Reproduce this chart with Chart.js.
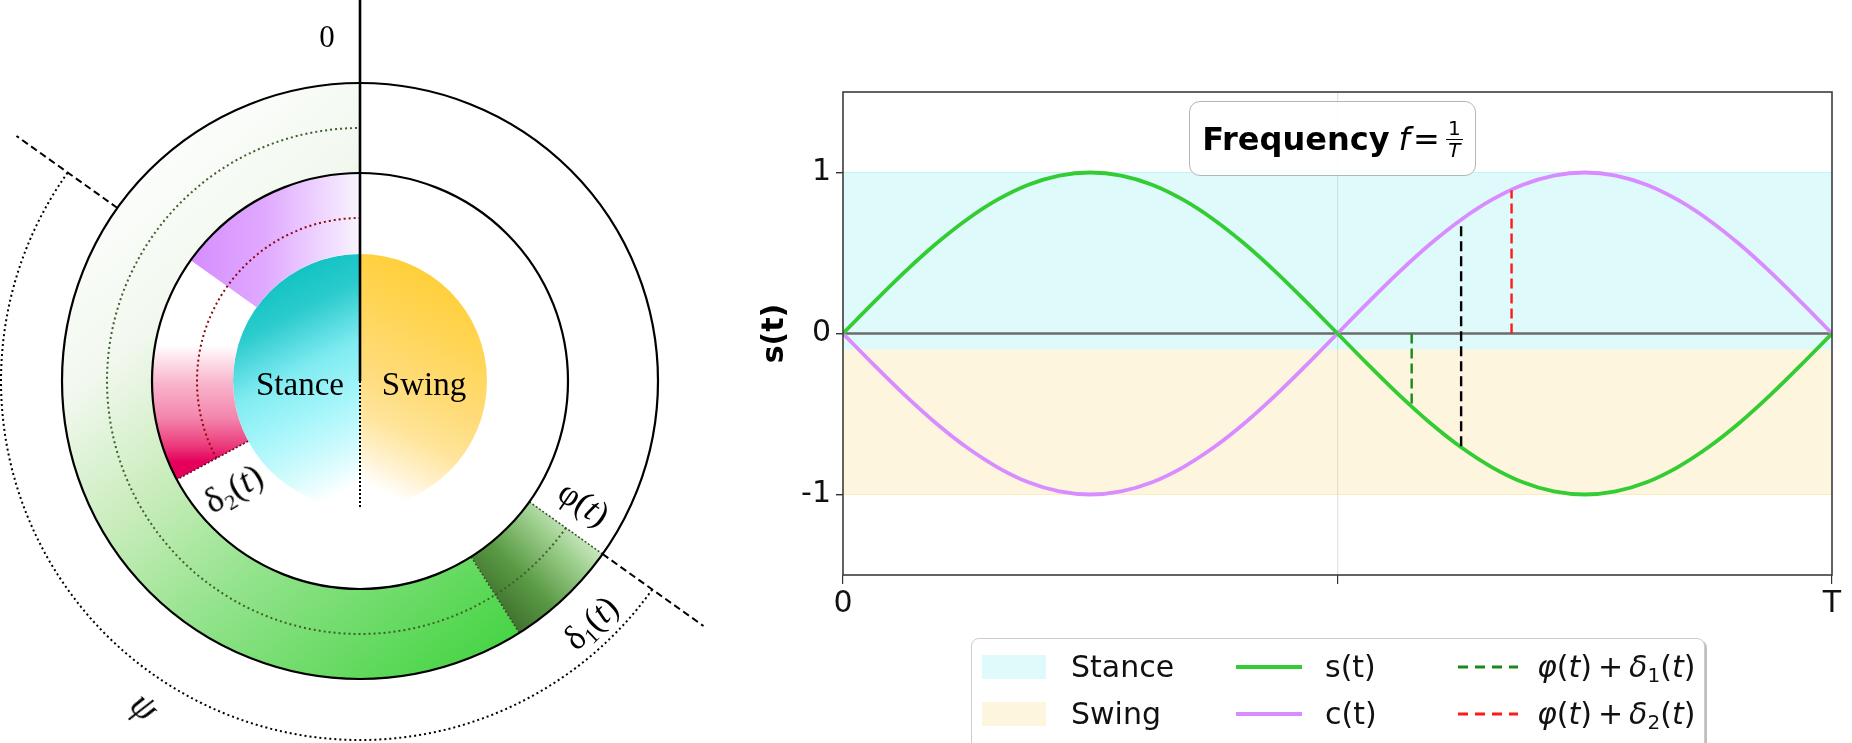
<!DOCTYPE html>
<html><head><meta charset="utf-8">
<script src="https://cdn.jsdelivr.net/npm/chart.js@4.4.1/dist/chart.umd.min.js"></script>
<style>
html,body{margin:0;padding:0;background:#fff;width:1852px;height:743px;overflow:hidden;position:relative;font-family:'DejaVu Sans',sans-serif;}
canvas{position:absolute;}
#left{left:0;top:0;}
#right{left:720px;top:0;}
.lbl{position:absolute;font-family:'Liberation Serif',serif;color:#000;white-space:nowrap;line-height:1;transform-origin:center center;}
#freq{position:absolute;left:1189px;top:101px;width:287px;height:75px;border:1.5px solid #b5b5b5;border-radius:11px;background:rgba(255,255,255,0.85);display:flex;align-items:center;justify-content:center;font-size:32px;color:#000;box-sizing:border-box;}
#freq b{font-weight:bold;margin-right:9px;}
.frac{display:inline-flex;flex-direction:column;align-items:center;font-size:20px;line-height:1;margin-left:3px;font-style:italic;}
.frac span:first-child{border-bottom:1.5px solid #000;padding:0 2px 1px 2px;font-style:normal;}
#legend{position:absolute;left:971px;top:638px;width:734px;height:140px;border:1.5px solid #cccccc;border-radius:8px;background:#fff;box-shadow:2px 2px 0 rgba(0,0,0,0.25);box-sizing:border-box;}
.li{position:absolute;font-size:30px;line-height:1;color:#111;white-space:nowrap;}
.li i{font-style:italic;}
.li sub{font-size:20px;vertical-align:-5px;}
</style></head>
<body>
<canvas id="left" width="720" height="743"></canvas>
<canvas id="right" width="1132" height="743"></canvas>
<div id="freq"><b>Frequency</b><i>f</i>&#8202;=&#8202;<span class="frac"><span>1</span><span>T</span></span></div>
<div id="legend"></div>
<div class="lbl" style="left:327px;top:36px;font-size:31px;transform:translate(-50%,-50%);">0</div>
<div class="lbl" style="left:300px;top:384px;font-size:33px;transform:translate(-50%,-50%);">Stance</div>
<div class="lbl" style="left:424px;top:384px;font-size:33px;transform:translate(-50%,-50%);">Swing</div>
<div class="lbl" style="left:584px;top:503px;font-size:35px;transform:translate(-50%,-50%) rotate(34deg);">φ(<i>t</i>)</div>
<div class="lbl" style="left:592px;top:624px;font-size:35px;transform:translate(-50%,-50%) rotate(-44deg);">δ<sub style="font-size:22px;vertical-align:-6px;">1</sub>(<i>t</i>)</div>
<div class="lbl" style="left:234px;top:490px;font-size:36px;transform:translate(-50%,-50%) rotate(-31deg);">δ<sub style="font-size:22px;vertical-align:-6px;">2</sub>(<i>t</i>)</div>
<div class="lbl" style="left:145px;top:706px;font-size:38px;font-style:italic;transform:translate(-50%,-50%) rotate(42deg);">ψ</div>
<script>
// ---------------- DATA ----------------
const tValues = [0,0.03125,0.0625,0.09375,0.125,0.15625,0.1875,0.21875,0.25,0.28125,0.3125,0.34375,0.375,0.40625,0.4375,0.46875,0.5,0.53125,0.5625,0.59375,0.625,0.65625,0.6875,0.71875,0.75,0.78125,0.8125,0.84375,0.875,0.90625,0.9375,0.96875,1];
const sValues = [0,0.195,0.383,0.556,0.707,0.831,0.924,0.981,1.000,0.981,0.924,0.831,0.707,0.556,0.383,0.195,0,-0.195,-0.383,-0.556,-0.707,-0.831,-0.924,-0.981,-1.000,-0.981,-0.924,-0.831,-0.707,-0.556,-0.383,-0.195,0];
const cValues = [0,-0.195,-0.383,-0.556,-0.707,-0.831,-0.924,-0.981,-1.000,-0.981,-0.924,-0.831,-0.707,-0.556,-0.383,-0.195,0,0.195,0.383,0.556,0.707,0.831,0.924,0.981,1.000,0.981,0.924,0.831,0.707,0.556,0.383,0.195,0];
const seriesNames = ['s(t)', 'c(t)'];
const bandNames = ['Stance', 'Swing'];
const bandEdge = [1, -1];
const bandSplit = -0.1;
const zeroLine = [0, 0];
const markerT = [0.575, 0.625, 0.676];
const markerFrom = [0, -0.70, 0];
const markerTo = [-0.45, 0.69, 0.89];
const markerNames = ['φ(t) + δ1(t)', '', 'φ(t) + δ2(t)'];
const xTickValues = [0, 0.5, 1];
const xTickLabels = ['0', '', 'T'];
const yTickValues = [-1, 0, 1];
const yTickLabels = ['-1', '0', '1'];

// circle diagram: spans in degrees, clockwise from the "0" mark
const outerRingLabels = ['', 'δ1(t)', 'ψ'];
const outerRingSpans = [125.5, 22.2, 212.3];
const innerRingLabels = ['', 'δ2(t)', '', 'c(t)'];
const innerRingSpans = [241.7, 43.3, 20.5, 54.5];
const discLabels = ['Swing', 'Stance'];
const discSpans = [180, 180];

// ---------------- STYLE ----------------
const C = {
  s: '#33cc33', c: '#d98cff',
  stance: 'rgba(0,215,225,0.125)', swing: 'rgba(240,190,30,0.15)',
  stanceEdge: 'rgba(0,200,210,0.18)', swingEdge: 'rgba(230,180,30,0.2)',
  markers: ['#1a8a1a', '#000000', '#ff1a1a']
};

function lg(ctx, x0, y0, x1, y1, stops) {
  const g = ctx.createLinearGradient(x0, y0, x1, y1);
  stops.forEach(([o, c]) => g.addColorStop(o, c));
  return g;
}
const cache = {};
function arcFill(c) {
  const key = c.datasetIndex + '_' + c.dataIndex;
  if (cache[key]) return cache[key];
  const ctx = c.chart.ctx;
  let g = 'rgba(0,0,0,0)';
  const d = c.datasetIndex, i = c.dataIndex;
  if (d === 0 && i === 1) g = lg(ctx, 488, 612, 590, 512, [[0, '#3b6a29'], [0.35, '#5a9a44'], [0.7, '#a3d394'], [1, '#f0f8ec']]);
  if (d === 0 && i === 2) g = lg(ctx, 120, 130, 560, 650, [[0, '#ffffff'], [0.25, '#f2f8ef'], [0.45, '#c6ecb8'], [0.62, '#94e38d'], [0.84, '#60d95c'], [1, '#3ad23a']]);
  if (d === 1 && i === 1) g = lg(ctx, 0, 345, 0, 462, [[0, '#ffffff'], [0.12, '#fde3ec'], [0.32, '#f9b6cd'], [0.62, '#f386ad'], [0.85, '#ec3f7e'], [1, '#e5005b']]);
  if (d === 1 && i === 3) g = lg(ctx, 185, 0, 362, 0, [[0, '#d58bff'], [0.45, '#e0a9ff'], [0.78, '#efd6ff'], [1, '#f8f6fd']]);
  if (d === 2 && i === 0) g = lg(ctx, 455, 286, 340, 514, [[0, '#ffcf3a'], [0.2, '#ffd556'], [0.45, '#ffdc7c'], [0.6, '#ffe49a'], [0.74, '#fff2d0'], [0.85, '#ffffff']]);
  if (d === 2 && i === 1) g = lg(ctx, 265, 286, 380, 514, [[0, '#12c3c3'], [0.15, '#2ccbcd'], [0.36, '#80ecf2'], [0.55, '#a8f6fa'], [0.72, '#d3fbfd'], [0.86, '#ffffff']]);
  cache[key] = g;
  return g;
}

const ringGuides = {
  id: 'ringGuides',
  afterDatasetsDraw(chart) {
    const ctx = chart.ctx;
    const a0 = chart.getDatasetMeta(0).data[0];
    const a2 = chart.getDatasetMeta(2).data[0];
    const cx = a0.x, cy = a0.y, R1 = a0.outerRadius, R2 = a0.innerRadius, R3 = a2.outerRadius;
    const rad = d => (d - 90) * Math.PI / 180;
    const pt = (d, r) => [cx + r * Math.cos(rad(d)), cy + r * Math.sin(rad(d))];
    const phi = outerRingSpans[0];
    const d1End = phi + outerRingSpans[1];
    const d2 = innerRingSpans[0];
    const line = (d, r0, r1) => { const p = pt(d, r0), q = pt(d, r1); ctx.beginPath(); ctx.moveTo(p[0], p[1]); ctx.lineTo(q[0], q[1]); ctx.stroke(); };
    ctx.save();
    ctx.lineCap = 'butt';
    ctx.setLineDash([2, 3]); ctx.lineWidth = 2;
    ctx.strokeStyle = '#3f5f2c';
    ctx.beginPath(); ctx.arc(cx, cy, (R1 + R2) / 2, rad(phi), rad(360)); ctx.stroke();
    ctx.strokeStyle = '#8b0a0a';
    ctx.beginPath(); ctx.arc(cx, cy, R2 - 45, rad(d2), rad(360)); ctx.stroke();
    ctx.lineWidth = 1.5; ctx.setLineDash([2, 2]);
    ctx.strokeStyle = '#34502a';
    line(phi, R2, R1); line(d1End, R2, R1);
    ctx.strokeStyle = '#5a0a20';
    line(d2, R3, R2);
    ctx.setLineDash([]); ctx.strokeStyle = '#000'; ctx.lineWidth = 2.2;
    ctx.beginPath(); ctx.arc(cx, cy, R1, 0, Math.PI * 2); ctx.stroke();
    ctx.beginPath(); ctx.arc(cx, cy, R2, 0, Math.PI * 2); ctx.stroke();
    ctx.lineWidth = 2.6;
    ctx.beginPath(); ctx.moveTo(cx, 0); ctx.lineTo(cx, cy); ctx.stroke();
    ctx.lineWidth = 2; ctx.setLineDash([2, 2]);
    ctx.beginPath(); ctx.moveTo(cx, cy); ctx.lineTo(cx, cy + R3); ctx.stroke();
    ctx.setLineDash([7, 4]); ctx.lineWidth = 2;
    line(phi, R1, R1 + 124); line(phi + 180, R1, R1 + 124);
    ctx.setLineDash([2, 3]); ctx.lineWidth = 2;
    ctx.beginPath(); ctx.arc(cx, cy, R1 + 61, rad(phi), rad(phi + 180)); ctx.stroke();
    ctx.restore();
  }
};

new Chart(document.getElementById('left'), {
  type: 'doughnut',
  data: {
    labels: ['a', 'b', 'c', 'd'],
    datasets: [
      { label: 'outer', data: outerRingSpans, weight: 90, backgroundColor: arcFill, borderWidth: 0 },
      { label: 'inner', data: innerRingSpans, weight: 81, backgroundColor: arcFill, borderWidth: 0 },
      { label: 'disc', data: discSpans, weight: 127, backgroundColor: arcFill, borderWidth: 0 }
    ]
  },
  options: {
    responsive: false, animation: false, devicePixelRatio: 1, events: [],
    radius: 298, cutout: 0, rotation: 0, circumference: 360,
    layout: { padding: { top: 19 } },
    plugins: { legend: { display: false }, tooltip: { enabled: false } }
  },
  plugins: [ringGuides]
});

// ---------------- RIGHT CHART ----------------
const pts = (xs, ys) => xs.map((x, i) => ({ x: x, y: ys[i] }));
const frame = {
  id: 'frame',
  afterDatasetsDraw(chart) {
    const { ctx, chartArea: a } = chart;
    ctx.save(); ctx.strokeStyle = '#3c3c3c'; ctx.lineWidth = 1.6;
    ctx.strokeRect(a.left, a.top, a.right - a.left, a.bottom - a.top);
    ctx.restore();
  }
};
const markerSets = markerT.map((t, i) => ({
  label: markerNames[i], data: pts([t, t], [markerFrom[i], markerTo[i]]),
  showLine: true, borderColor: C.markers[i], borderWidth: 2.4, borderDash: [10, 5],
  pointRadius: 0, fill: false, order: 1
}));
const rightChart = new Chart(document.getElementById('right'), {
  type: 'scatter',
  data: {
    datasets: [
      ...markerSets,
      { label: seriesNames[0], data: pts(tValues, sValues), showLine: true, borderColor: C.s, borderWidth: 3.8, pointRadius: 0, cubicInterpolationMode: 'monotone', fill: false, order: 2 },
      { label: seriesNames[1], data: pts(tValues, cValues), showLine: true, borderColor: C.c, borderWidth: 3.8, pointRadius: 0, cubicInterpolationMode: 'monotone', fill: false, order: 3 },
      { label: 'zero', data: pts([0, 1], zeroLine), showLine: true, borderColor: '#6c6c6c', borderWidth: 2.4, pointRadius: 0, fill: false, order: 4 },
      { label: bandNames[0], data: pts([0, 1], [bandEdge[0], bandEdge[0]]), showLine: true, borderColor: C.stanceEdge, borderWidth: 1, pointRadius: 0, backgroundColor: C.stance, fill: { value: bandSplit }, order: 5 },
      { label: bandNames[1], data: pts([0, 1], [bandEdge[1], bandEdge[1]]), showLine: true, borderColor: C.swingEdge, borderWidth: 1, pointRadius: 0, backgroundColor: C.swing, fill: { value: bandSplit }, order: 6 }
    ]
  },
  options: {
    responsive: false, animation: false, devicePixelRatio: 1, events: [],
    layout: { padding: { top: 92, right: 20, left: 0, bottom: 0 } },
    plugins: { legend: { display: false }, tooltip: { enabled: false } },
    scales: {
      x: {
        type: 'linear', min: 0, max: 1,
        afterBuildTicks: s => { s.ticks = xTickValues.map(v => ({ value: v })); },
        afterFit: s => { s.height = 168; },
        ticks: { callback: (v, i) => xTickLabels[i], font: { family: 'DejaVu Sans', size: 30 }, color: '#111', padding: 2, maxRotation: 0, autoSkip: false },
        grid: { color: c => (c.tick && c.tick.value === 0.5) ? '#e4e4e4' : 'rgba(0,0,0,0)', lineWidth: 1.2, tickColor: '#333', tickLength: 9, drawTicks: true },
        border: { display: false }
      },
      y: {
        type: 'linear', min: -1.5, max: 1.5,
        afterBuildTicks: s => { s.ticks = yTickValues.map(v => ({ value: v })); },
        afterFit: s => { s.width = 123; },
        ticks: { callback: (v, i) => yTickLabels[i], font: { family: 'DejaVu Sans', size: 30 }, color: '#111', padding: 5, autoSkip: false },
        grid: { drawOnChartArea: false, tickColor: '#333', tickLength: 7, lineWidth: 1.4 },
        border: { display: false },
        title: { display: true, text: 's(t)', font: { family: 'DejaVu Sans', size: 30, weight: 'bold' }, color: '#000', padding: { top: 37, bottom: 0 } }
      }
    }
  },
  plugins: [frame]
});

// ---------------- LEGEND (built from the datasets) ----------------
const ds = rightChart.data.datasets;
const byLabel = l => ds.find(d => d.label === l);
const fmt = s => s.replace(/φ/g, '<i>φ</i>').replace(/ \+ /g, '&thinsp;+&thinsp;').replace(/δ(\d)/g, '<i>δ</i><sub>$1</sub>').replace(/\(t\)/g, '(<i>t</i>)');
const legendCols = [10, 264, 486];
const legendRows = [28, 75];
const textOffset = [99, 353, 565];
const items = [
  [{ kind: 'patch', d: byLabel(bandNames[0]) }, { kind: 'patch', d: byLabel(bandNames[1]) }],
  [{ kind: 'line', d: byLabel(seriesNames[0]) }, { kind: 'line', d: byLabel(seriesNames[1]) }],
  [{ kind: 'dash', d: byLabel(markerNames[0]) }, { kind: 'dash', d: byLabel(markerNames[2]) }]
];
const lgEl = document.getElementById('legend');
let html = '';
items.forEach((col, ci) => col.forEach((it, ri) => {
  const y = legendRows[ri];
  const x = legendCols[ci];
  if (it.kind === 'patch') {
    html += `<div style="position:absolute;left:${x}px;top:${y - 12}px;width:64px;height:24px;background:${it.d.backgroundColor};"></div>`;
    html += `<div class="li" style="left:${textOffset[ci]}px;top:${y - 15}px;">${it.d.label}</div>`;
  } else {
    const w = it.kind === 'dash' ? 60 : 66;
    const dash = it.kind === 'dash' ? 'stroke-dasharray="10,7"' : '';
    html += `<svg style="position:absolute;left:${x}px;top:${y - 5}px" width="${w}" height="10"><line x1="0" y1="5" x2="${w}" y2="5" stroke="${it.d.borderColor}" stroke-width="${it.kind === 'dash' ? 3.2 : 4.2}" ${dash}/></svg>`;
    html += `<div class="li" style="left:${textOffset[ci]}px;top:${y - 15}px;">${it.kind === 'dash' ? fmt(it.d.label) : it.d.label}</div>`;
  }
}));
lgEl.innerHTML = html;
</script>
</body></html>
